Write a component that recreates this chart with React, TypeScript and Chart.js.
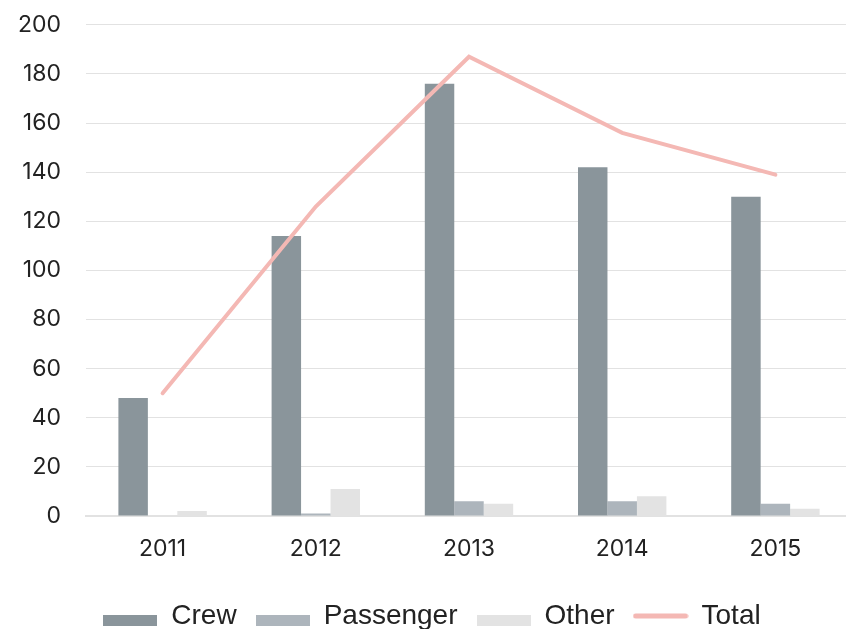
import React, { useEffect, useRef } from "react";
import { Chart, registerables } from "chart.js";

Chart.register(...registerables);

const years = ["2011", "2012", "2013", "2014", "2015"];
const crew = [48, 114, 176, 142, 130];
const passenger = [0, 1, 6, 6, 5];
const other = [2, 11, 5, 8, 3];
const total = [50, 126, 187, 156, 139];
const yTicks = [0, 20, 40, 60, 80, 100, 120, 140, 160, 180, 200];

const colors = {
  Crew: "#8a959b",
  Passenger: "#adb5bc",
  Other: "#e3e3e3",
  Total: "#f4b8b4",
};

const tickFont = "Inter, 'Open Sans', sans-serif";
const legendFont = "'Liberation Sans', Arial, sans-serif";

function makeBoxIcon(color: string) {
  const c = document.createElement("canvas");
  c.width = 54;
  c.height = 24;
  const ctx = c.getContext("2d")!;
  ctx.fillStyle = color;
  ctx.fillRect(0, 11, 54, 11);
  return c;
}

function makeLineIcon(color: string) {
  const c = document.createElement("canvas");
  c.width = 56;
  c.height = 24;
  const ctx = c.getContext("2d")!;
  ctx.strokeStyle = color;
  ctx.lineWidth = 5;
  ctx.lineCap = "round";
  ctx.beginPath();
  ctx.moveTo(3, 12);
  ctx.lineTo(53, 12);
  ctx.stroke();
  return c;
}

export default function App() {
  const ref = useRef<HTMLCanvasElement | null>(null);

  useEffect(() => {
    document.body.style.margin = "0";
    if (!ref.current) return;
    const icons: Record<string, HTMLCanvasElement> = {
      Crew: makeBoxIcon(colors.Crew),
      Passenger: makeBoxIcon(colors.Passenger),
      Other: makeBoxIcon(colors.Other),
      Total: makeLineIcon(colors.Total),
    };
    const order = ["Crew", "Passenger", "Other", "Total"];
    const chart = new Chart(ref.current, {
      type: "bar",
      data: {
        labels: years,
        datasets: [
          {
            type: "line",
            label: "Total",
            data: total,
            borderColor: colors.Total,
            backgroundColor: colors.Total,
            borderWidth: 4,
            pointRadius: 0,
            borderCapStyle: "round",
            tension: 0,
            order: 0,
          } as any,
          { label: "Crew", data: crew, backgroundColor: colors.Crew, order: 1 },
          { label: "Passenger", data: passenger, backgroundColor: colors.Passenger, order: 1 },
          { label: "Other", data: other, backgroundColor: colors.Other, order: 1 },
        ],
      },
      options: {
        animation: false,
        responsive: false,
        maintainAspectRatio: false,
        layout: { padding: { top: 0, right: 20, left: 12, bottom: 0 } },
        datasets: {
          bar: { categoryPercentage: 0.577, barPercentage: 1 },
        },
        plugins: {
          tooltip: { enabled: false },
          legend: {
            position: "bottom",
            labels: {
              usePointStyle: true,
              pointStyleWidth: 54,
              boxHeight: 24,
              padding: 19,
              color: "#222",
              font: { family: legendFont, size: 28 },
              generateLabels: (ch: any) => {
                const items = Chart.defaults.plugins.legend.labels.generateLabels(ch);
                items.forEach((it: any) => {
                  it.pointStyle = icons[it.text];
                  it.lineWidth = 0;
                });
                items.sort((a: any, b: any) => order.indexOf(a.text) - order.indexOf(b.text));
                return items;
              },
            },
          },
        },
        scales: {
          x: {
            grid: { display: false, drawTicks: false },
            border: { display: true, color: "#e2e2e2", width: 2 },
            ticks: {
              color: "#222",
              padding: 19,
              font: { family: tickFont, size: 23 },
            },
            afterFit: (scale: any) => {
              scale.height = 67;
            },
          },
          y: {
            min: 0,
            max: 200,
            afterBuildTicks: (axis: any) => {
              axis.ticks = yTicks.map((v) => ({ value: v }));
            },
            afterFit: (scale: any) => {
              scale.width = 74;
            },
            grid: { color: "#e2e2e2", lineWidth: 1, drawTicks: false },
            border: { display: false },
            ticks: {
              color: "#222",
              padding: 25,
              font: { family: tickFont, size: 23 },
            },
          },
        },
      },
    });
    return () => chart.destroy();
  }, []);

  return (
    <div style={{ position: "fixed", left: 0, top: 0, width: 846, height: 629, overflow: "hidden", background: "#fff" }}>
      <canvas ref={ref} width={872} height={654} style={{ display: "block", position: "absolute", left: 0, top: -14 }} />
    </div>
  );
}
